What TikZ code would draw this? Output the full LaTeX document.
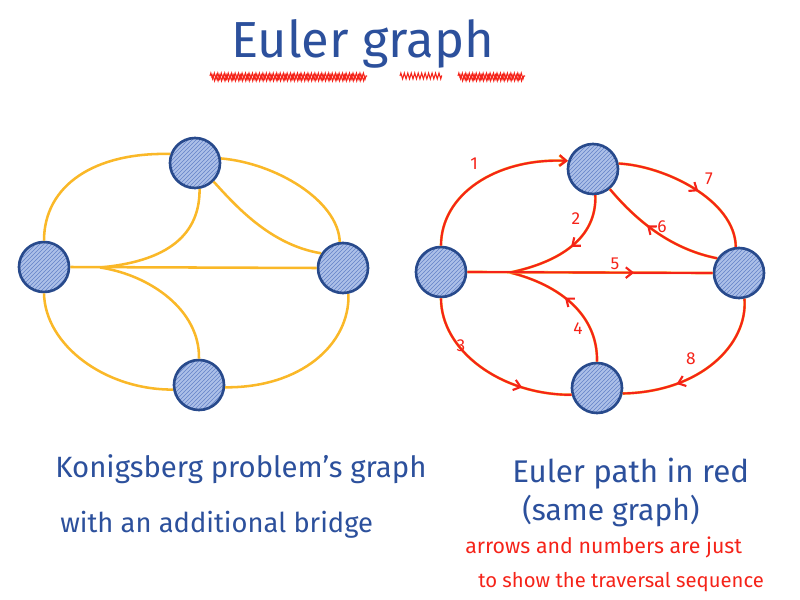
\documentclass[tikz,border=0pt]{standalone}
\usepackage{fontspec}
\setmainfont{Fira Sans}
\usetikzlibrary{arrows.meta,decorations.markings,decorations.pathmorphing,patterns}
\definecolor{nodeblue}{RGB}{40,74,140}
\definecolor{nodefill}{RGB}{172,192,232}
\definecolor{hatch}{RGB}{100,130,200}
\definecolor{edgeorange}{RGB}{250,184,40}
\definecolor{pathred}{RGB}{245,35,25}
\definecolor{textblue}{RGB}{44,80,156}
\begin{document}
\begin{tikzpicture}[x=0.75pt,y=-0.75pt,
  vertex/.style={circle,draw=nodeblue,line width=2pt,preaction={fill=nodefill},
    pattern=north east lines,pattern color=hatch,minimum size=37.5pt,inner sep=0pt},
  bridge/.style={draw=edgeorange,line width=1.9pt},
  walk/.style={draw=pathred,line width=1.6pt,preaction={draw=edgeorange,line width=2.0pt}},
  endtip/.style={-{Straight Barb[length=5pt,width=8pt]}},
  midarrow/.style={postaction={decorate},decoration={markings,
    mark=at position #1 with {\arrow[pathred,line width=1.6pt]{Straight Barb[length=5pt,width=8pt]}}}},
  num/.style={text=pathred,font=\fontsize{13}{15}\selectfont,inner sep=0pt},
  bluetext/.style={text=textblue,anchor=base west,inner sep=0pt,font=\fontsize{22}{26}\selectfont},
  redtext/.style={text=pathred,anchor=base west,inner sep=0pt,font=\fontsize{16}{19}\selectfont},
  scribble/.style={draw=pathred,line width=0.8pt,decorate,
    decoration={zigzag,segment length=2.6pt,amplitude=2.2pt}}
]
\useasboundingbox (0,0) rectangle (800,600);

% title
\node[text=textblue,anchor=base west,inner sep=0pt,font=\fontsize{38}{44}\selectfont] (title) at (231,57) {Euler graph};
\draw[scribble] (210,76) -- (367,76);
\draw[scribble] (212,78) -- (365,78);
\draw[scribble] (400,76) -- (442,76);
\draw[scribble] (458,76) -- (525,76);
\draw[scribble] (460,78) -- (523,78);

% left graph
\node[vertex] (L) at (44,267) {};
\node[vertex] (T) at (195,163) {};
\node[vertex] (R) at (343,268) {};
\node[vertex] (B) at (199,385) {};
\coordinate (hl) at (100,267.5);

\draw[bridge] (L.north) .. controls (44,185) and (95,152) .. (T.160);
\draw[bridge] (T.-80) .. controls (200,240) and (160,262) .. (hl);
\draw[bridge] (hl) .. controls (150,275) and (200,310) .. (B.north);
\draw[bridge] (L.east) -- (R.west);
\draw[bridge] (T.10) .. controls (275,163) and (338,200) .. (R.97);
\draw[bridge] (T.-45) .. controls (235,205) and (270,245) .. (R.146);
\draw[bridge] (L.south) .. controls (45,345) and (105,390) .. (B.190);
\draw[bridge] (R.-78) .. controls (350,345) and (300,388) .. (B.-5);

% right graph
\node[vertex] (L2) at (441,272) {};
\node[vertex] (T2) at (593,169) {};
\node[vertex] (R2) at (739,273) {};
\node[vertex] (B2) at (597,388) {};
\coordinate (hr) at (510,272.5);

\draw[walk,endtip] (L2.north) .. controls (441,195) and (495,158) .. (T2.162);
\draw[walk,midarrow=0.47] (T2.-85) .. controls (597,238) and (560,262) .. (hr);
\draw[walk,midarrow=0.72] (L2.south) .. controls (441,350) and (500,395) .. (B2.195);
\draw[walk,midarrow=0.55] (B2.north) .. controls (598,315) and (560,285) .. (hr);
\draw[walk,midarrow=0.68] (L2.east) -- (R2.west);
\draw[walk,midarrow=0.6] (R2.146) .. controls (675,250) and (640,225) .. (T2.-50);
\draw[walk,midarrow=0.55] (T2.12) .. controls (665,166) and (735,200) .. (R2.97);
\draw[walk,midarrow=0.68] (R2.-78) .. controls (748,345) and (700,392) .. (B2.-12);

\node[num] (n1) at (474,164) {1};
\node[num] (n2) at (576,219) {2};
\node[num] (n3) at (461,346) {3};
\node[num] (n4) at (578,329) {4};
\node[num] (n5) at (615,264) {5};
\node[num] (n6) at (662,227) {6};
\node[num] (n7) at (709,179) {7};
\node[num] (n8) at (691,359) {8};

% captions
\node[bluetext] (c1) at (55,477) {Konigsberg problem's graph};
\node[bluetext,font=\fontsize{20.5}{24}\selectfont] (c2) at (60,532) {with an additional bridge};
\node[bluetext,font=\fontsize{23.5}{27}\selectfont] (c3) at (512,482) {Euler path in red};
\node[bluetext,font=\fontsize{22.5}{27}\selectfont] (c4) at (522,520) {(same graph)};
\node[redtext] (c5) at (465,553) {arrows and numbers are just};
\node[redtext,font=\fontsize{15.2}{18}\selectfont] (c6) at (478,587) {to show the traversal sequence};
\end{tikzpicture}
\end{document}
